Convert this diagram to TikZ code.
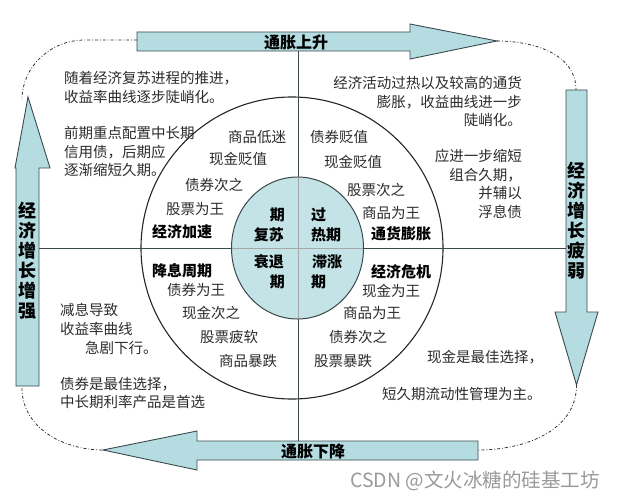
\documentclass[tikz,border=0pt]{standalone}
\usepackage{fontspec}
\setmainfont{Noto Sans CJK SC}
\usepackage{xcolor}
\usepackage{tikz}
\usetikzlibrary{positioning,calc}

\definecolor{arrowfill}{HTML}{B5DDE1}
\definecolor{corefill}{HTML}{C4E3E6}
\definecolor{edgegray}{HTML}{3A4A4C}
\definecolor{txtgray}{HTML}{2B2B2B}

\begin{document}
\begin{tikzpicture}[x=1pt,y=-1pt,
  txt/.style={inner sep=0pt,text=txtgray,font=\fontsize{14.5}{17}\selectfont},
  bld/.style={inner sep=0pt,text=black,font=\fontsize{15}{17}\selectfont\bfseries},
  arrowlbl/.style={inner sep=0pt,text=black,font=\fontsize{16}{20}\selectfont\bfseries},
  vlbl/.style={inner sep=0pt,text=black,align=center,font=\fontsize{18}{20}\selectfont\bfseries},
  bigarrow/.style={fill=arrowfill,draw=edgegray,line width=0.9pt},
  cyclepath/.style={line width=0.8pt,black!80,dash pattern=on 3pt off 2pt on 0.8pt off 2pt}]
  \useasboundingbox (0,0) rectangle (617,500);

  \draw[line width=1.1pt,black!85] (292,248) circle (151);
  \draw[line width=0.9pt,edgegray] (298,51) -- (298,441);
  \draw[line width=0.9pt,edgegray] (39,248) -- (566,248);
  \draw[line width=1pt,fill=corefill,draw=edgegray] (297.5,248) ellipse (66 and 71);
  \draw[line width=0.6pt,gray!70] (298,177) -- (298,319);
  \draw[line width=0.6pt,gray!70] (232,248) -- (363,248);

  \draw[bigarrow] (137,32) -- (410,32) -- (410,24) -- (497,41) -- (410,59) -- (410,51) -- (137,51) -- cycle;
  \draw[bigarrow] (566,90) -- (587,90) -- (587,312) -- (598,312) -- (576.5,385) -- (555,312) -- (566,312) -- cycle;
  \draw[bigarrow] (39,386) -- (16,386) -- (16,168) -- (15,168) -- (28,97) -- (50,168) -- (39,168) -- cycle;
  \draw[bigarrow] (478,441) -- (197,441) -- (197,431) -- (103,450) -- (197,470) -- (197,460) -- (478,460) -- cycle;

  \coordinate (riseTail) at (137,40);
  \coordinate (riseTip) at (497,41);
  \coordinate (weakTop) at (576,90);
  \coordinate (weakTip) at (576.5,385);
  \coordinate (fallTail) at (478,450);
  \coordinate (fallTip) at (103,450);
  \coordinate (growTail) at (22,388);
  \coordinate (growTip) at (22,100);

  \draw[cyclepath] (riseTail) -- (85,40) to[out=180,in=90] (growTip);
  \draw[cyclepath] (riseTip) to[out=0,in=90] (weakTop);
  \draw[cyclepath] (weakTip) to[out=-90,in=0] (fallTail);
  \draw[cyclepath] (growTail) to[out=-90,in=180] (fallTip);

  \node[arrowlbl] (riseLbl) at (296,42) {通胀上升};
  \node[arrowlbl] (fallLbl) at (313,451) {通胀下降};
  \node[vlbl] (growLbl) at (27.5,260.5) {经\\济\\增\\长\\增\\强};
  \node[vlbl] (weakLbl) at (576.5,221) {经\\济\\增\\长\\疲\\弱};

  \node[bld,anchor=east] (coreA1) at (285,215) {期};
  \node[bld,anchor=east] (coreA2) at (284,235) {复苏};
  \node[bld,anchor=west] (coreB1) at (311,215) {过};
  \node[bld,anchor=west] (coreB2) at (311,235) {热期};
  \node[bld,anchor=east] (coreC1) at (284,262) {衰退};
  \node[bld,anchor=east] (coreC2) at (285,282) {期};
  \node[bld,anchor=west] (coreD1) at (312,262) {滞涨};
  \node[bld,anchor=west] (coreD2) at (311,282) {期};

  \node[txt,anchor=west] (tlNote1) at (64,78) {随着经济复苏进程的推进，};
  \node[txt,anchor=west] (tlNote2) at (64,97) {收益率曲线逐步陡峭化。};
  \node[txt,anchor=west] (tlNote3) at (64,133) {前期重点配置中长期};
  \node[txt,anchor=west] (tlNote4) at (64,152) {信用债，后期应};
  \node[txt,anchor=west] (tlNote5) at (64,170) {逐渐缩短久期。};
  \node[txt,anchor=west] (tlRing1) at (228,137) {商品低迷};
  \node[txt,anchor=west] (tlRing2) at (209,159) {现金贬值};
  \node[txt,anchor=west] (tlRing3) at (185,185) {债券次之};
  \node[txt,anchor=west] (tlRing4) at (166,209) {股票为王};
  \node[bld,anchor=west] (tlPhase) at (152,232) {经济加速};

  \node[txt,anchor=east] (trNote1) at (522,83) {经济活动过热以及较高的通货};
  \node[txt,anchor=east] (trNote2) at (522,102) {膨胀，收益曲线进一步};
  \node[txt,anchor=east] (trNote3) at (522,120) {陡峭化。};
  \node[txt,anchor=east] (trNote4) at (522,156) {应进一步缩短};
  \node[txt,anchor=east] (trNote5) at (522,175) {组合久期，};
  \node[txt,anchor=east] (trNote6) at (522,193) {并辅以};
  \node[txt,anchor=east] (trNote7) at (522,212) {浮息债};
  \node[txt,anchor=west] (trRing1) at (310,137) {债券贬值};
  \node[txt,anchor=west] (trRing2) at (324,162) {现金贬值};
  \node[txt,anchor=west] (trRing3) at (347,190) {股票次之};
  \node[txt,anchor=west] (trRing4) at (362,213) {商品为王};
  \node[bld,anchor=west] (trPhase) at (371,234) {通货膨胀};

  \node[bld,anchor=west] (blPhase) at (152,271) {降息周期};
  \node[txt,anchor=west] (blRing1) at (167,290) {债券为王};
  \node[txt,anchor=west] (blRing2) at (182,313) {现金次之};
  \node[txt,anchor=west] (blRing3) at (200,337) {股票疲软};
  \node[txt,anchor=west] (blRing4) at (219,361) {商品暴跌};
  \node[txt,anchor=west] (blNote1) at (60,310) {减息导致};
  \node[txt,anchor=west] (blNote2) at (60,329) {收益率曲线};
  \node[txt,anchor=west] (blNote3) at (85,348) {急剧下行。};
  \node[txt,anchor=west] (blNote4) at (60,384) {债券是最佳选择，};
  \node[txt,anchor=west] (blNote5) at (60,402) {中长期利率产品是首选};

  \node[bld,anchor=west] (brPhase) at (371,272) {经济危机};
  \node[txt,anchor=west] (brRing1) at (362,291) {现金为王};
  \node[txt,anchor=west] (brRing2) at (343,313) {商品为王};
  \node[txt,anchor=west] (brRing3) at (329,337) {债券次之};
  \node[txt,anchor=west] (brRing4) at (314,361) {股票暴跌};
  \node[txt,anchor=west] (brNote1) at (427,357) {现金是最佳选择，};
  \node[txt,anchor=west] (brNote2) at (382,394) {短久期流动性管理为主。};

  \node[inner sep=0pt,anchor=west,text=black!40,font=\fontsize{19.5}{22}\selectfont] (mark) at (350,481) {CSDN @文火冰糖的硅基工坊};
\end{tikzpicture}
\end{document}
